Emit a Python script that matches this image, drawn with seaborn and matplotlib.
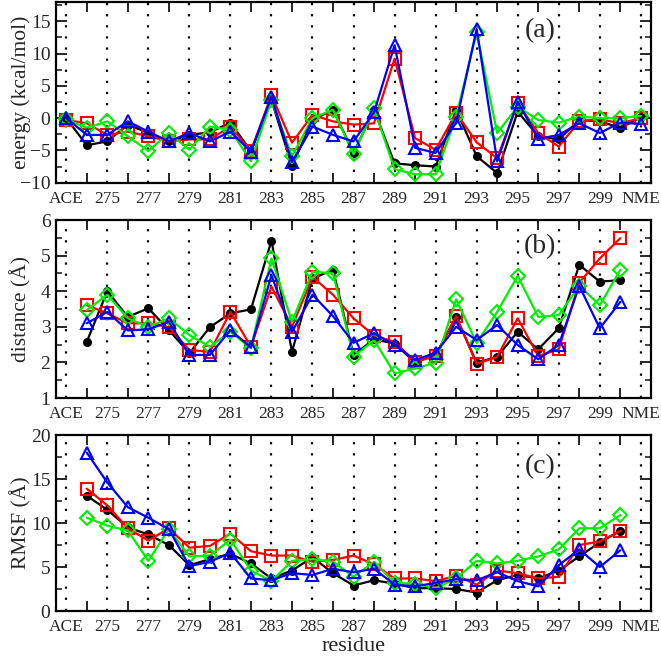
import numpy as np
import pandas as pd
import matplotlib
matplotlib.use("Agg")
import matplotlib.pyplot as plt
import seaborn as sns
from matplotlib.ticker import MultipleLocator

sns.set_style("ticks")
plt.rcParams['font.family'] = ['Liberation Serif', 'DejaVu Serif']
plt.rcParams['mathtext.fontset'] = 'stix'

# ---------------- data ----------------
res_a = list(range(273, 302))          # ACE .. NME
res_bc = list(range(274, 301))

xtick_pos = list(range(273, 302, 2))
xtick_labels = ["ACE"] + [str(r) for r in range(275, 301, 2)] + ["NME"]

energy_black = [0, -4.2, -3.6, -1.0, -2.3, -3.6, -2.6, -2.2, -0.7, -5.1, 2.8, -7.4, -0.3, 1.3, -5.4,
                1.3, -7.0, -7.3, -7.5, 1.3, -5.9, -8.5, 1.0, -2.8, -3.3, -0.3, -0.5, -1.5, 0.1]
energy_red = [-0.3, -0.8, -2.6, -2.1, -2.8, -3.6, -3.3, -3.3, -1.3, -5.1, 3.6, -3.8, 0.5, -0.5, -1.0,
              -0.8, 9.2, -3.1, -4.9, 0.8, -3.75, -6.2, 2.3, -2.3, -4.4, -0.5, -0.15, -0.8, 0.0]
energy_green = [-0.2, -1.5, -0.5, -2.8, -5.1, -2.3, -4.9, -1.3, -1.8, -6.7, 2.8, -5.9, 0.0, 1.3, -5.6,
                1.5, -7.9, -8.7, -8.7, 0.25, 13.3, -2.3, 1.8, -0.3, -0.7, 0.25, 0.0, 0.0, 0.35]
energy_blue = [0, -2.6, -2.6, -0.5, -2.1, -3.6, -2.3, -3.6, -2.1, -5.2, 3.3, -6.8, -1.3, -2.6, -3.6,
               0.9, 11.3, -4.6, -5.4, -0.7, 13.8, -6.7, 2.55, -3.2, -2.6, -0.8, -2.3, -0.7, -0.9]

dist_black = [2.58, 4.0, 3.28, 3.52, 2.91, 2.26, 2.99, 3.38, 3.49, 5.42, 2.3, 4.36, 4.6, 2.21,
              2.65, 2.53, 2.0, 2.21, 3.28, 1.99, 2.16, 2.86, 2.37, 2.96, 4.74, 4.27, 4.31]
dist_red = [3.61, 3.38, 3.1, 3.1, 2.99, 2.35, 2.3, 3.42, 2.44, 4.13, 3.0, 4.4, 3.9, 3.24,
            2.75, 2.58, 2.02, 2.18, 3.3, 1.96, 2.16, 3.24, 2.18, 2.37, 4.24, 4.92, 5.49]
dist_green = [3.47, 3.9, 3.24, 3.0, 3.24, 2.77, 2.44, 2.86, 2.4, 4.92, 3.14, 4.55, 4.5, 2.16,
              2.63, 1.69, 1.83, 1.99, 3.77, 2.55, 3.42, 4.43, 3.28, 3.33, 4.15, 3.61, 4.6]
dist_blue = [3.1, 3.42, 2.9, 2.93, 3.14, 2.21, 2.21, 2.91, 2.42, 4.45, 2.86, 3.9, 3.3, 2.55,
             2.82, 2.49, 2.07, 2.27, 3.0, 2.63, 3.05, 2.49, 2.09, 2.49, 4.15, 2.96, 3.7]

rmsf_black = [13.1, 11.5, 9.5, 8.7, 7.5, 5.2, 5.9, 6.5, 5.4, 3.7, 4.6, 6.1, 4.3, 2.9,
              3.5, 3.1, 2.6, 2.6, 2.5, 2.1, 3.5, 4.1, 3.7, 4.6, 6.2, 7.8, 9.1]
rmsf_red = [13.9, 12.0, 9.4, 8.0, 9.4, 7.2, 7.4, 8.8, 6.8, 6.3, 6.3, 5.6, 5.8, 6.3,
            5.3, 3.7, 3.7, 3.4, 4.0, 3.0, 4.6, 4.3, 3.7, 3.9, 7.5, 7.9, 9.1]
rmsf_green = [10.6, 9.7, 9.15, 5.7, 9.3, 6.2, 6.3, 8.1, 4.6, 3.4, 5.7, 5.9, 5.6, 3.9,
              5.6, 3.2, 3.1, 2.6, 3.7, 5.7, 5.4, 5.7, 6.2, 7.0, 9.4, 9.4, 10.9]
rmsf_blue = [18.0, 14.6, 11.8, 10.6, 9.3, 5.1, 5.6, 6.6, 3.7, 3.5, 4.3, 4.1, 4.8, 4.4,
             4.8, 3.0, 2.8, 3.2, 3.6, 3.5, 4.4, 3.4, 2.8, 5.2, 7.0, 5.0, 6.9]

series_names = ["black", "red", "green", "blue"]
colors = {"black": "#000000", "red": "#ff0000", "green": "#00ee00", "blue": "#0000ff"}
markers = {"black": "o", "red": "s", "green": "D", "blue": "^"}
msizes = {"black": 5, "red": 8, "green": 7, "blue": 9}

panels = [
    ("energy (kcal/mol)", "(a)", res_a, [energy_black, energy_red, energy_green, energy_blue],
     (-10, 18), 5, 2.5, 0.84),
    ("distance (Å)", "(b)", res_bc, [dist_black, dist_red, dist_green, dist_blue],
     (1, 6), 1, 0.5, 0.85),
    ("RMSF (Å)", "(c)", res_bc, [rmsf_black, rmsf_red, rmsf_green, rmsf_blue],
     (0, 20), 5, 2.5, 0.82),
]

fig = plt.figure(figsize=(6.61, 6.59), dpi=100)
boxes = [(0.0847, 0.7228, 0.9003, 0.2742),
         (0.0847, 0.3960, 0.9003, 0.2701),
         (0.0847, 0.0728, 0.9003, 0.2671)]

for (ylabel, tag, res, vals, ylim, maj, mnr, tagy), box in zip(panels, boxes):
    ax = fig.add_axes(box)
    rows = []
    for name, v in zip(series_names, vals):
        for r, y in zip(res, v):
            rows.append({"residue": r, "value": y, "series": name})
    df = pd.DataFrame(rows)
    for name in series_names:
        sub = df[df["series"] == name]
        c = colors[name]
        face = c if name == "black" else "none"
        sns.lineplot(data=sub, x="residue", y="value", ax=ax, color=c, lw=1.6,
                     marker=markers[name], markersize=msizes[name],
                     markerfacecolor=face, markeredgecolor=c, markeredgewidth=1.5,
                     legend=False, zorder=3, estimator=None, sort=False)
    ax.set_xlim(272.5, 301.5)
    ax.set_ylim(*ylim)
    ax.set_xticks(xtick_pos)
    ax.set_xticklabels(xtick_labels)
    ax.set_xticks(list(range(274, 301, 2)), minor=True)
    ax.tick_params(axis="x", which="major", length=0, pad=6, labelsize=12.5)
    ax.tick_params(axis="x", which="minor", direction="in", length=7, width=1.4,
                   top=True, bottom=True)
    ax.yaxis.set_major_locator(MultipleLocator(maj))
    ax.yaxis.set_minor_locator(MultipleLocator(mnr))
    ax.tick_params(axis="y", which="major", direction="in", length=8, width=1.4,
                   left=True, right=True, labelsize=14, pad=4)
    ax.tick_params(axis="y", which="minor", direction="in", length=4, width=1.2,
                   left=True, right=True)
    ax.grid(axis="x", which="major", color="black", linestyle=(0, (1, 4)), linewidth=1.6)
    for s in ax.spines.values():
        s.set_linewidth(1.6)
        s.set_color("black")
    ax.set_ylabel(ylabel, fontsize=15.5)
    ax.yaxis.set_label_coords(-0.042, 0.5)
    ax.set_xlabel("")
    ax.text(0.813, tagy, tag, transform=ax.transAxes, fontsize=20,
            ha="center", va="center")
    last_ax = ax

last_ax.set_xlabel("residue", fontsize=16, labelpad=1)

fig.savefig("out.png", dpi=100)
